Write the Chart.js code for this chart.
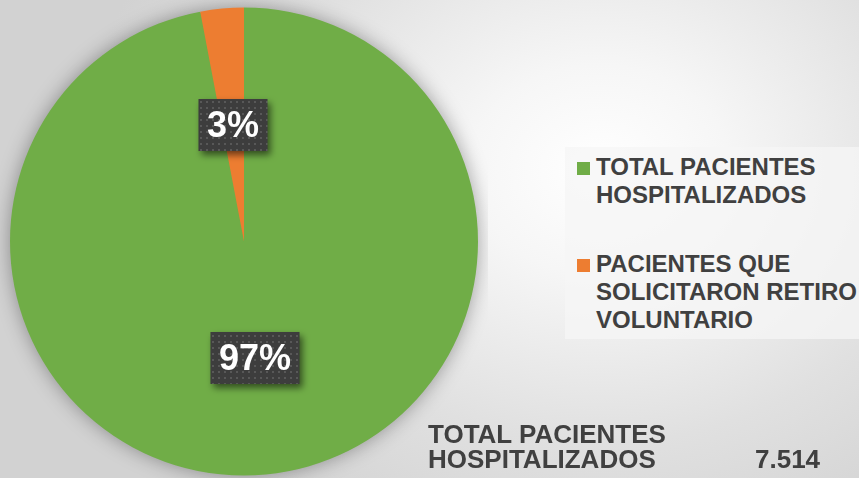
<!DOCTYPE html>
<html>
<head>
<meta charset="utf-8">
<script src="https://cdn.jsdelivr.net/npm/chart.js@4.4.0/dist/chart.umd.min.js"></script>
<style>
  html, body { margin: 0; padding: 0; }
  body {
    width: 859px; height: 478px; overflow: hidden; position: relative;
    background: radial-gradient(ellipse 520px 420px at 600px 170px, #ffffff 0%, #f6f6f6 25%, #e0e0e0 65%, #d2d2d2 100%);
    font-family: "Liberation Sans", Arial, sans-serif; font-weight: bold; color: #404040;
  }
  #pieBox { position: absolute; left: 0px; top: -3px; width: 488px; height: 489px; }
  #legend {
    position: absolute; left: 565px; top: 147px; width: 294px; height: 192px;
    background: rgba(246,246,246,0.75);
  }
  .item { position: absolute; left: 31px; font-size: 24px; line-height: 28px; white-space: nowrap; }
  .sw { position: absolute; left: -19px; top: 9px; width: 13px; height: 13px; }
  #total { position: absolute; left: 428px; top: 422px; font-size: 26px; line-height: 25px; white-space: nowrap; }
  #total .num { position: absolute; left: 327px; top: 25px; }
</style>
</head>
<body>
<div id="pieBox"><canvas id="c"></canvas></div>
<div id="legend"></div>
<div id="total"></div>
<script>
// datos
const labels = ['TOTAL PACIENTES HOSPITALIZADOS', 'PACIENTES QUE SOLICITARON RETIRO VOLUNTARIO']
const values = [7514, 232]
const colors = ['#70AD47', '#ED7D31']
const legendLines = [['TOTAL PACIENTES', 'HOSPITALIZADOS'], ['PACIENTES QUE', 'SOLICITARON RETIRO', 'VOLUNTARIO']]
const totalLines = ['TOTAL PACIENTES', 'HOSPITALIZADOS']
const totalValue = '7.514'

// leyenda
const legend = document.getElementById('legend')
const itemTops = [6, 103]
legendLines.forEach((lines, i) => {
    const div = document.createElement('div')
    div.className = 'item'
    div.style.top = itemTops[i] + 'px'
    div.innerHTML = `<span class="sw" style="background:${colors[i]}"></span>` + lines.join('<br>')
    legend.appendChild(div)
})

const total = document.getElementById('total')
total.innerHTML = totalLines.join('<br>') + `<span class="num">${totalValue}</span>`

// patrón punteado de las etiquetas
function makePattern(ctx){
    const p = document.createElement('canvas')
    p.width = 6
    p.height = 6
    const pc = p.getContext('2d')
    pc.fillStyle = '#3d3d3d'
    pc.fillRect(0, 0, 6, 6)
    pc.fillStyle = '#585858'
    pc.fillRect(2, 2, 2, 2)
    return ctx.createPattern(p, 'repeat')
}

// sombra suave alrededor del pastel
const pieShadow = {
    id: 'pieShadow',
    beforeDatasetsDraw(chart){
        const arc = chart.getDatasetMeta(0).data[0]
        if(!arc) return
        const ctx = chart.ctx
        ctx.save()
        ctx.shadowColor = 'rgba(0,0,0,0.38)'
        ctx.shadowBlur = 20
        ctx.fillStyle = colors[0]
        ctx.beginPath()
        ctx.arc(arc.x, arc.y, arc.outerRadius - 1, 0, Math.PI * 2)
        ctx.fill()
        ctx.restore()
    }
}

const boxLabels = {
    id: 'boxLabels',
    afterDatasetsDraw(chart){
        const ctx = chart.ctx
        const data = chart.data.datasets[0].data
        const sum = data.reduce((a, b) => a + b, 0)
        const meta = chart.getDatasetMeta(0)
        ctx.save()
        ctx.font = 'bold 36px "Liberation Sans", Arial, sans-serif'
        ctx.textAlign = 'center'
        ctx.textBaseline = 'middle'
        const pat = makePattern(ctx)
        meta.data.forEach((arc, i) => {
            const txt = Math.round(data[i] / sum * 100) + '%'
            const pos = arc.tooltipPosition()
            const w = ctx.measureText(txt).width + 17
            const h = 52
            ctx.save()
            ctx.shadowColor = 'rgba(0,0,0,0.55)'
            ctx.shadowBlur = 7
            ctx.shadowOffsetX = 3
            ctx.shadowOffsetY = 4
            ctx.fillStyle = pat
            ctx.fillRect(pos.x - w / 2, pos.y - h / 2, w, h)
            ctx.restore()
            ctx.fillStyle = '#ffffff'
            ctx.fillText(txt, pos.x, pos.y + 2)
        })
        ctx.restore()
    }
}

new Chart(document.getElementById('c'), {
    type: 'pie',
    data: {
        labels: labels,
        datasets: [{
            data: values,
            backgroundColor: colors,
            borderWidth: 0
        }]
    },
    options: {
        responsive: true,
        maintainAspectRatio: false,
        animation: false,
        layout: { padding: 10 },
        plugins: {
            legend: { display: false },
            tooltip: { enabled: false }
        }
    },
    plugins: [pieShadow, boxLabels]
})
</script>
</body>
</html>
